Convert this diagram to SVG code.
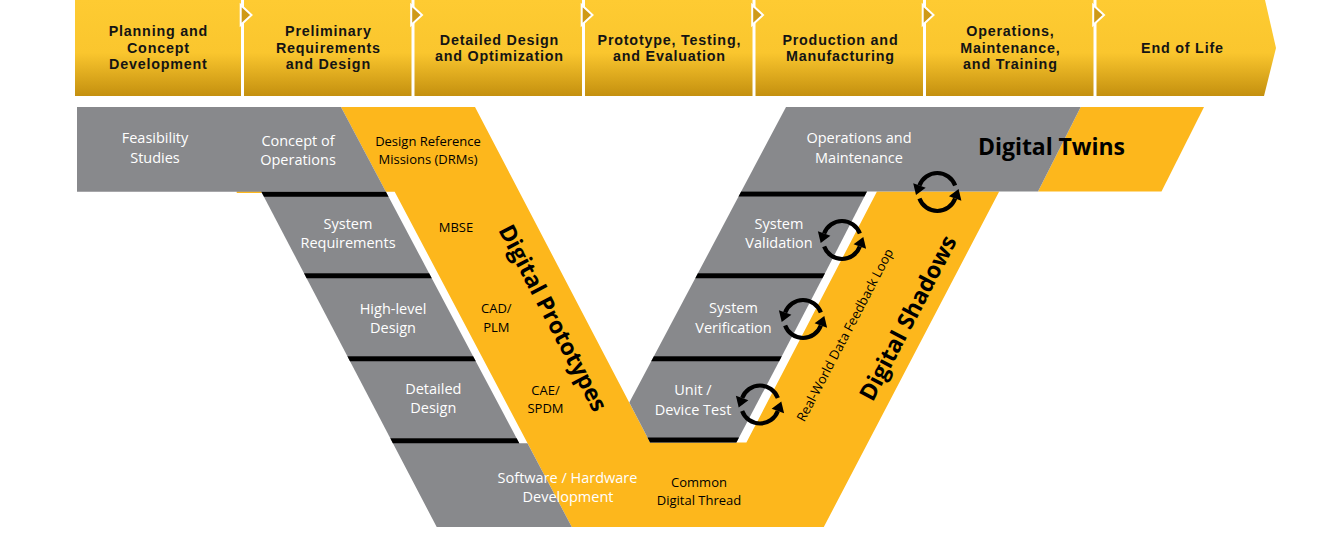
<svg xmlns="http://www.w3.org/2000/svg" width="1341" height="551" viewBox="0 0 1341 551">
<style>
.chev{fill:url(#gold)}
.tip{fill:#CF9A17;stroke:#fff;stroke-width:2}
.ct{font-family:"Liberation Sans",Arial,sans-serif;font-weight:700;font-size:14.3px;letter-spacing:0.8px;fill:#141414;text-anchor:middle}
.gray{fill:#88898C}
.org{fill:#FDB71C}
.sep{fill:#000}
.wt{font-family:"Open Sans","Liberation Sans",sans-serif;font-size:14.5px;fill:#fff;text-anchor:middle}
.bt{font-family:"Open Sans","Liberation Sans",sans-serif;font-size:13px;fill:#000;text-anchor:middle}
.big{font-family:"Open Sans","Liberation Sans",sans-serif;font-weight:700;font-size:23px;fill:#000;text-anchor:middle}
.arc{fill:none;stroke:#000;stroke-width:4.2}
</style>
<defs>
<linearGradient id="gold" x1="0" y1="0" x2="0" y2="1">
<stop offset="0" stop-color="#FECB32"/>
<stop offset="0.55" stop-color="#FAC62E"/>
<stop offset="1" stop-color="#C4900F"/>
</linearGradient>
<g id="cyc">
<path class="arc" d="M17.85,-6.5 A19,19 0 0 0 -17.85,-6.5"/>
<polygon points="-24.1,-8.77 -11.6,-4.23 -21.3,2.9"/>
<path class="arc" d="M-17.85,6.5 A19,19 0 0 0 17.85,6.5"/>
<polygon points="24.1,8.77 11.6,4.23 21.3,-2.9"/>
</g>
</defs>
<rect width="1341" height="551" fill="#fff"/>

<g id="phases">
<g id="phase1"><rect class="chev" x="75" y="0" width="166" height="96"/>
<text class="ct"><tspan x="158.4" y="36">Planning and</tspan><tspan x="158.4" y="52.7">Concept</tspan><tspan x="158.4" y="69.3">Development</tspan></text></g>
<g id="phase2"><rect class="chev" x="244" y="0" width="167.5" height="96"/>
<text class="ct"><tspan x="328.4" y="36">Preliminary</tspan><tspan x="328.4" y="52.7">Requirements</tspan><tspan x="328.4" y="69.3">and Design</tspan></text></g>
<g id="phase3"><rect class="chev" x="414.5" y="0" width="167.5" height="96"/>
<text class="ct"><tspan x="499.4" y="44.5">Detailed Design</tspan><tspan x="499.4" y="61">and Optimization</tspan></text></g>
<g id="phase4"><rect class="chev" x="585" y="0" width="167.5" height="96"/>
<text class="ct"><tspan x="669.4" y="44.5">Prototype, Testing,</tspan><tspan x="669.4" y="61">and Evaluation</tspan></text></g>
<g id="phase5"><rect class="chev" x="755.5" y="0" width="167.5" height="96"/>
<text class="ct"><tspan x="840.4" y="44.5">Production and</tspan><tspan x="840.4" y="61">Manufacturing</tspan></text></g>
<g id="phase6"><rect class="chev" x="926" y="0" width="167.5" height="96"/>
<text class="ct"><tspan x="1010.4" y="36">Operations,</tspan><tspan x="1010.4" y="52.7">Maintenance,</tspan><tspan x="1010.4" y="69.3">and Training</tspan></text></g>
<g id="phase7"><polygon class="chev" points="1096.5,0 1265,0 1276,48 1264,96 1096.5,96"/>
<text class="ct" x="1182.4" y="53">End of Life</text></g>
<polygon class="tip" points="240.7,5 251.5,15 240.7,25"/>
<polygon class="tip" points="411.2,5 422,15 411.2,25"/>
<polygon class="tip" points="581.7,5 592.5,15 581.7,25"/>
<polygon class="tip" points="752.2,5 763,15 752.2,25"/>
<polygon class="tip" points="922.7,5 933.5,15 922.7,25"/>
<polygon class="tip" points="1093.2,5 1104,15 1093.2,25"/>
</g>

<g id="vshape">
<polygon class="org" points="341,107 475,107 650.1,442.5 746.4,442.5 876.96,191.5 999.2,191.5 823.8,527 571.8,527 394.7,191.7 385.9,191.7"/>
<rect class="org" x="236.7" y="191.2" width="25" height="1.8"/>
<polygon class="org" points="1080.7,107 1204,107 1161.5,191.5 1038,191.5"/>
</g>

<g id="feasibility"><polygon class="gray" points="77,107 341,107 385.9,191.7 77,191.7"/>
<text class="wt"><tspan x="155" y="143.3">Feasibility</tspan><tspan x="155" y="163.3">Studies</tspan></text>
<text class="wt"><tspan x="298" y="145.5">Concept of</tspan><tspan x="298" y="165">Operations</tspan></text></g>
<g id="sysreq"><polygon class="gray" points="261.3,191.7 385.9,191.7 429.1,273.3 304,273.3"/>
<polygon class="sep" points="261.3,191.7 385.9,191.7 388.5,196.7 264,196.7"/>
<text class="wt"><tspan x="348" y="229.3">System</tspan><tspan x="348" y="248.3">Requirements</tspan></text></g>
<g id="highlevel"><polygon class="gray" points="304,273.3 429.1,273.3 473.1,356.3 347.4,356.3"/>
<polygon class="sep" points="304,273.3 429.1,273.3 431.8,278.3 306.6,278.3"/>
<text class="wt"><tspan x="393" y="314">High-level</tspan><tspan x="393" y="333.3">Design</tspan></text></g>
<g id="detailed"><polygon class="gray" points="347.4,356.3 473.1,356.3 516.6,438.3 390.3,438.3"/>
<polygon class="sep" points="347.4,356.3 473.1,356.3 475.8,361.3 350,361.3"/>
<text class="wt"><tspan x="433.3" y="394">Detailed</tspan><tspan x="433.3" y="413.3">Design</tspan></text></g>
<g id="swhw"><polygon class="gray" points="390.3,438.3 516.6,438.3 519.3,443.3 527.5,443.3 571.8,527 436.7,527"/>
<polygon class="sep" points="390.3,438.3 516.6,438.3 519.3,443.3 392.8,443.3"/>
<text class="wt"><tspan x="567.5" y="482.7">Software / Hardware</tspan><tspan x="568" y="502">Development</tspan></text></g>

<g id="opsmaint"><polygon class="gray" points="786,107 1080.7,107 1038,191.5 741.2,191.5"/>
<text class="wt"><tspan x="859" y="143.3">Operations and</tspan><tspan x="859" y="163.3">Maintenance</tspan></text></g>
<g id="validation"><polygon class="gray" points="741.2,191.5 867,191.5 825,273.3 697.9,273.3"/>
<polygon class="sep" points="741.2,191.5 867,191.5 864.4,196.5 738.5,196.5"/>
<text class="wt"><tspan x="779" y="229">System</tspan><tspan x="779" y="248.3">Validation</tspan></text></g>
<g id="verification"><polygon class="gray" points="697.9,273.3 825,273.3 781.8,356.3 653.9,356.3"/>
<polygon class="sep" points="697.9,273.3 825,273.3 822.4,278.3 695.3,278.3"/>
<text class="wt"><tspan x="733.5" y="313.3">System</tspan><tspan x="733.5" y="333.3">Verification</tspan></text></g>
<g id="unittest"><polygon class="gray" points="653.9,356.3 781.8,356.3 736.4,442.5 650.1,442.5 629.3,402.6"/>
<polygon class="sep" points="653.9,356.3 781.8,356.3 779.2,361.3 651.2,361.3"/>
<polygon class="sep" points="647.5,437.5 739,437.5 736.4,442.5 650.1,442.5"/>
<text class="wt"><tspan x="693" y="395">Unit /</tspan><tspan x="693" y="415">Device Test</tspan></text></g>

<g id="labels">
<text class="bt"><tspan x="428" y="146">Design Reference</tspan><tspan x="428" y="164.3">Missions (DRMs)</tspan></text>
<text class="bt" x="456" y="232.3">MBSE</text>
<text class="bt"><tspan x="496.3" y="313.3">CAD/</tspan><tspan x="496.3" y="332.3">PLM</tspan></text>
<text class="bt"><tspan x="545.5" y="395">CAE/</tspan><tspan x="545.5" y="413.3">SPDM</tspan></text>
<text class="bt"><tspan x="699" y="486.7">Common</tspan><tspan x="699" y="504.5">Digital Thread</tspan></text>
<text class="big" transform="translate(553,318) rotate(62.4)" y="8">Digital Prototypes</text>
<text class="big" transform="translate(908,318) rotate(-62.4)" y="8">Digital Shadows</text>
<text class="bt" transform="translate(845,335) rotate(-62.4)" y="4.5">Real-World Data Feedback Loop</text>
<text class="big" x="978" y="155" style="text-anchor:start" textLength="147">Digital Twins</text>
</g>

<g id="connectors">
<use href="#cyc" x="937.3" y="192"/>
<use href="#cyc" x="842" y="240"/>
<use href="#cyc" x="803" y="319"/>
<use href="#cyc" x="760" y="404.5"/>
</g>
</svg>
